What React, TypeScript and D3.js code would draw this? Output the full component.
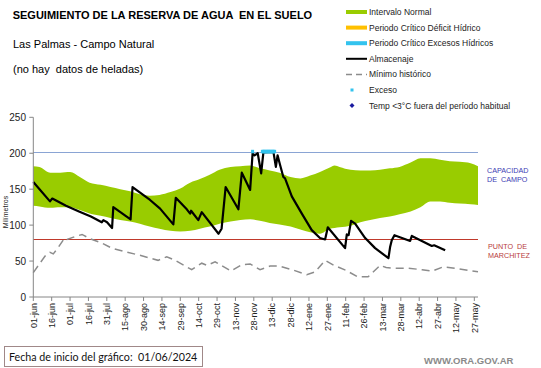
import * as React from "react";
import * as d3 from "d3";

// ticks del eje x (cada 15 días desde 01-jun-2024)
const tickDays = [0, 15, 30, 45, 60, 75, 90, 105, 120, 135, 150, 165, 180, 195, 210, 225, 240, 255, 270, 285, 300, 315, 330, 345, 360];
const tickLabels = ["01-jun", "16-jun", "01-jul", "16-jul", "31-jul", "15-ago", "30-ago", "14-sep", "29-sep", "14-oct", "29-oct", "13-nov", "28-nov", "13-dic", "28-dic", "12-ene", "27-ene", "11-feb", "26-feb", "13-mar", "28-mar", "12-abr", "27-abr", "12-may", "27-may"];
const yTicks = [0, 50, 100, 150, 200, 250];

const capacidadCampo = 202;
const puntoMarchitez = 80;

// intervalo normal (banda verde)
const bandDays = [0, 5, 14, 22, 30, 38, 46, 55, 63, 71, 79, 87, 95, 103, 112, 120, 128, 136, 144, 152, 161, 169, 177, 185, 193, 201, 210, 218, 226, 234, 242, 246, 250, 259, 267, 275, 283, 291, 299, 308, 316, 324, 332, 340, 348, 357, 363];
const bandUpper = [182, 181, 173, 173, 174, 167, 159, 156, 153, 150, 147, 143, 141, 142, 146, 151, 159, 164, 170, 177, 181, 182, 183, 179, 176, 173, 167, 165, 169, 174, 180, 183, 181, 177, 176, 176, 177, 179, 181, 187, 193, 193, 191, 189, 188, 186, 182];
const bandLower = [127, 126, 124, 125, 125, 121, 116, 113, 110, 107, 105, 102, 98, 95, 92, 91, 92, 95, 98, 102, 105, 107, 108, 106, 103, 101, 98, 94, 90, 88, 95, 96, 97, 99, 104, 107, 110, 112, 115, 119, 125, 133, 133, 131, 130, 129, 128];

// almacenaje
const storeDays = [0, 13.6, 15.5, 26.7, 37.3, 47, 55.9, 57.2, 60.2, 64.3, 65.3, 79.4, 81, 95.3, 103.5, 114.3, 116.3, 125.3, 128, 128.8, 134.7, 137.5, 151.2, 153.7, 157, 167.4, 170.2, 177, 179, 180.6, 183.2, 186, 187.8, 196, 198, 199.4, 201.4, 204.1, 205.5, 211, 219.2, 227.3, 234, 238.2, 240.4, 241.4, 254.5, 255.9, 257.4, 259.4, 262.7, 270.9, 279, 289.9, 291.3, 292.6, 294.8, 307.6, 309, 325.3, 327.2, 336.2];
const storeValues = [160, 133, 137, 127, 119, 112, 104, 107, 104, 96, 125, 108, 153, 135, 123, 101, 138, 122, 116, 120, 107, 118, 88, 95, 153, 122, 173, 149, 200, 197, 200, 172, 201, 202, 181, 197, 184, 167, 165, 140, 116, 93, 82, 80, 97, 95, 68, 87, 86, 106, 102, 82, 68, 54, 70, 79, 86, 78, 85, 71, 72, 65];

// mínimo histórico
const minDays = [0, 9.6, 13.6, 16.3, 20.4, 25.5, 27.5, 34, 39.8, 46.3, 55.9, 64, 74.9, 87.1, 95.3, 101.8, 108.9, 115.7, 129.3, 137.5, 141.8, 148.4, 161.4, 170.2, 177, 185.1, 193.3, 200.6, 211.2, 223.2, 230, 238.2, 245.5, 255.3, 265, 273.3, 283.1, 288, 295.3, 306, 317.4, 325.5, 334.8, 344.3, 355, 363];
const minValues = [34, 57, 62, 60, 69, 82, 80, 84, 87, 81, 75, 68, 63, 58, 54, 51, 56, 51, 38, 47, 44, 49, 36, 45, 46, 38, 43, 43, 38, 31, 35, 51, 44, 37, 28, 28, 44, 41, 40, 40, 38, 36, 42, 40, 37, 35];

// días con exceso
const excesoDays = [179, 187, 188, 189, 190, 191, 192, 193, 194, 195, 196, 197];

const FONT = "'Liberation Sans', Arial, sans-serif";

export default function App() {
    const x = d3.scaleLinear().domain([0, 363]).range([33.3, 478]);
    const y = d3.scaleLinear().domain([0, 250]).range([297, 117.3]);

    const band = d3.area<number>()
        .x((d, i) => x(bandDays[i]))
        .y0((d, i) => y(bandLower[i]))
        .y1(d => y(d))
        .curve(d3.curveMonotoneX);

    const line = d3.line<[number, number]>()
        .x(d => x(d[0]))
        .y(d => y(d[1]));

    const storeData = storeDays.map<[number, number]>((d, i) => [d, storeValues[i]]);
    const minData = minDays.map<[number, number]>((d, i) => [d, minValues[i]]);

    const legend = [
        { label: "Intervalo Normal", kind: "bar", color: "#99cc00" },
        { label: "Periodo Crítico Déficit Hídrico", kind: "bar", color: "#ffc000" },
        { label: "Periodo Crítico Excesos Hídricos", kind: "bar", color: "#33c3ee" },
        { label: "Almacenaje", kind: "line", color: "#000" },
        { label: "Mínimo histórico", kind: "dash", color: "#8c8c8c" },
        { label: "Exceso", kind: "dot", color: "#33c3ee" },
        { label: "Temp <3°C fuera del período habitual", kind: "diamond", color: "#1a1aa0" },
    ];

    const yCC = Math.round(y(capacidadCampo)) + 0.5;
    const yPM = Math.round(y(puntoMarchitez)) + 0.5;

    return <svg width="541" height="368" style={{ position: "fixed", left: 0, top: 0, background: "#fff" }} fontFamily={FONT}>
        <rect width="541" height="368" fill="#fff" />

        <text x="12.7" y="19" fontSize="11" fontWeight="bold" style={{ whiteSpace: "pre" }}>SEGUIMIENTO DE LA RESERVA DE AGUA  EN EL SUELO</text>
        <text x="13" y="48" fontSize="11">Las Palmas - Campo Natural</text>
        <text x="13" y="73" fontSize="11" style={{ whiteSpace: "pre" }}>(no hay  datos de heladas)</text>

        {legend.map((l, i) => {
            const ly = 12 + i * 15.6;
            let mark;
            if (l.kind === "bar") mark = <rect x="346" y={ly - 2} width="21" height="4" fill={l.color} />;
            else if (l.kind === "line") mark = <line x1="346" x2="367" y1={ly} y2={ly} stroke={l.color} strokeWidth="2" />;
            else if (l.kind === "dash") mark = <line x1="346" x2="367" y1={ly} y2={ly} stroke={l.color} strokeWidth="1.5" strokeDasharray="6,4" />;
            else if (l.kind === "dot") mark = <rect x="350.5" y={ly - 1.5} width="3" height="3" fill={l.color} />;
            else mark = <path d={`M352,${ly - 2.5}L354.5,${ly}L352,${ly + 2.5}L349.5,${ly}Z`} fill={l.color} />;
            return <g key={i}>
                {mark}
                <text x="369" y={ly + 3} fontSize="8.5" fill="#222">{l.label}</text>
            </g>;
        })}

        <path d={band(bandUpper) || ""} fill="#99cc00" />

        <line x1={x(0)} x2={x(363)} y1={yCC} y2={yCC} stroke="#8aa4d4" strokeWidth="1.2" />
        <line x1={x(0)} x2={x(363)} y1={yPM} y2={yPM} stroke="#c0392b" strokeWidth="1.2" />

        <path d={line(minData) || ""} fill="none" stroke="#8c8c8c" strokeWidth="1.5" strokeDasharray="8,5" />
        <path d={line(storeData) || ""} fill="none" stroke="#000" strokeWidth="2.2" strokeLinejoin="round" />

        {excesoDays.map((d, i) => <rect key={i} x={x(d) - 1.5} y={y(capacidadCampo) - 2} width="3" height="3.5" fill="#33c3ee" />)}

        {/* ejes */}
        <line x1={x(0)} x2={x(0)} y1={y(250)} y2={y(0)} stroke="#868686" />
        <line x1={x(0)} x2={x(363)} y1={y(0)} y2={y(0)} stroke="#868686" />
        {yTicks.map(t => <g key={t}>
            <line x1={x(0) - 4} x2={x(0)} y1={y(t)} y2={y(t)} stroke="#868686" />
            <text x="26" y={y(t)} dy="0.35em" textAnchor="end" fontSize="10" fill="#222">{t}</text>
        </g>)}
        {tickDays.map((d, i) => <g key={d}>
            <line x1={x(d)} x2={x(d)} y1={y(0)} y2={y(0) + 4} stroke="#868686" />
            <text transform={`translate(${x(d) + 3.3},${y(0) + 6}) rotate(-90)`} textAnchor="end" fontSize="9" fill="#222">{tickLabels[i]}</text>
        </g>)}
        <text transform="translate(8,212) rotate(-90)" textAnchor="middle" fontSize="7" fill="#222">Milímetros</text>

        <text x="487" y="173" fontSize="7.2" fill="#3c3cb4">CAPACIDAD</text>
        <text x="487" y="182" fontSize="7.2" fill="#3c3cb4" style={{ whiteSpace: "pre" }}>DE  CAMPO</text>
        <text x="488" y="249" fontSize="7.2" fill="#b83c3c" style={{ whiteSpace: "pre" }}>PUNTO  DE</text>
        <text x="488" y="258" fontSize="7.2" fill="#b83c3c">MARCHITEZ</text>

        <rect x="4.5" y="346.5" width="198" height="20" fill="none" stroke="#a08888" />
        <text x="9" y="361" fontSize="10.7" fontFamily="Lato, 'Open Sans', sans-serif" fill="#111" style={{ whiteSpace: "pre" }}>Fecha de inicio del gráfico:  01/06/2024</text>
        <text x="424" y="364" fontSize="9.5" fontWeight="bold" fill="#8a8a8a">WWW.ORA.GOV.AR</text>
    </svg>;
}
